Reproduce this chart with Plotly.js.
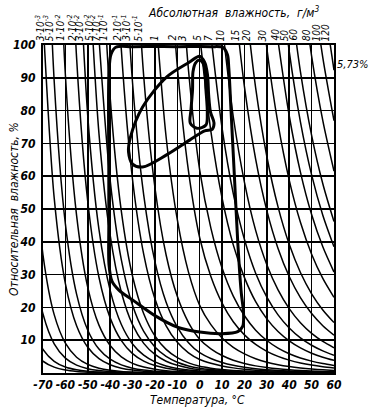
<!DOCTYPE html>
<html><head><meta charset="utf-8">
<script src="https://cdn.plot.ly/plotly-3.0.1.min.js"></script>
<style>body{margin:0;background:#fff}</style>
</head><body>
<div id="chart" style="width:376px;height:411px"></div>
<script>
// Saturation absolute humidity (g/m3) on the chart's temperature grid
const satTemp = [-75,-70,-65,-60,-55,-50,-45,-40,-35,-30,-25,-20,-15,-10,-5,0,5,10,15,20,25,30,35,40,45,50,55,60];
const satDensity = [0.00133,0.00278,0.00562,0.0110,0.0208,0.0383,0.0685,0.119,0.203,0.339,0.553,0.884,1.39,2.14,3.25,4.85,6.79,9.38,12.8,17.2,23.0,30.3,39.5,51.0,65.3,82.8,104,130];

// Labelled lines of constant absolute humidity (g/m3)
const absHumidity = [0.003,0.005,0.01,0.02,0.03,0.05,0.07,0.1,0.2,0.3,0.5,1,2,3,5,7,10,15,20,30,40,50,60,80,100,120];
const absLabels = ['3·10<sup>-3</sup>','5·10<sup>-3</sup>','1·10<sup>-2</sup>','2·10<sup>-2</sup>','3·10<sup>-2</sup>','5·10<sup>-2</sup>','7·10<sup>-2</sup>','1·10<sup>-1</sup>','2·10<sup>-1</sup>','3·10<sup>-1</sup>','5·10<sup>-1</sup>','1','2','3','5','7','10','15','20','30','40','50','60','80','100','120'];
// Unlabelled lines entering from the left border (g/m3)
const absHumidityLow = [0.001,0.0005,0.0002,0.0001];

const xTickVals = [-70,-60,-50,-40,-30,-20,-10,0,10,20,30,40,50,60];
const xTickText = ['-70','-60','-50','-40','-30','-20','-10','0','10','20','30','40','50','60'];
const yTickVals = [10,20,30,40,50,60,70,80,90,100];

// Thick outlined regions (temperature °C, relative humidity %)
const outerT  = [-40.6,-40.5,-39.6,-37.5,-30,-10,5,10.5,12.4,13.0,14.0,15.5,17.0,18.5,19.6,19.2,17.0,10,0,-10,-20,-30,-36,-39.2,-40.5,-40.6,-40.6];
const outerRH = [60,92,97.2,99.3,99.5,99.5,99.5,99.2,97.0,93,80,60,40,25,18,14.2,12.6,12.0,12.5,14.0,17.5,22.3,25.2,28.0,33,45,60];
const crescentT  = [-0.1,2.2,3.5,4.0,4.8,6.4,5.6,2.2,-4.5,-14.8,-25.5,-30.0,-31.8,-30.9,-25.5,-14.8,-4.5,-0.1];
const crescentRH = [96.6,94.8,90.9,84.8,79.6,76.2,74.3,73.8,71.0,66.5,62.8,63.7,67.4,72.0,81.1,90.2,94.8,96.6];
const bulbT  = [-0.1,2.0,2.8,3.4,2.8,-1.2,-4.2,-3.9,-3.2,-3.0,-1.9,-0.1];
const bulbRH = [95.4,93.6,86.3,79.3,75.6,74.6,76.2,80.2,86.3,91.8,94.5,95.4];

const traces = [];
const annotations = [];
const FAM = 'Liberation Sans Narrow, DejaVu Sans Condensed, sans-serif';
const labelFont = {family:FAM, size:10, color:'#000', style:'italic'};

function humidityLine(a) {
  const rh = satDensity.map(s => 100 * a / s);
  const start = rh.findIndex(v => v <= 100);
  const i0 = Math.max(0, start - 1);
  traces.push({x: satTemp.slice(i0), y: rh.slice(i0), mode:'lines',
               line:{color:'#000', width:1.5, shape:'spline', smoothing:0.8},
               hoverinfo:'skip', showlegend:false});
  return start;
}

absHumidity.forEach((a, k) => {
  const start = humidityLine(a);
  let tc;
  if (start <= 0) tc = satTemp[0];
  else {
    const s0 = satDensity[start-1], s1 = satDensity[start];
    tc = satTemp[start-1] + (satTemp[start]-satTemp[start-1]) * Math.log(a/s0) / Math.log(s1/s0);
  }
  annotations.push({x: tc, y: 100, xref:'x', yref:'y', text: absLabels[k], showarrow:false,
                    textangle:-90, xanchor:'center', yanchor:'bottom', yshift:2, xshift:-4, font: labelFont});
});
absHumidityLow.forEach(a => humidityLine(a));

function region(t, r) {
  traces.push({x: t, y: r, mode:'lines', line:{color:'#000', width:3, shape:'spline', smoothing:0.9},
               hoverinfo:'skip', showlegend:false});
}
region(outerT, outerRH);
region(crescentT, crescentRH);
region(bulbT, bulbRH);

const axisFont = {family:FAM, size:12, color:'#000', style:'italic', weight:'bold'};
const titleFont = {family:FAM, size:12, color:'#000', style:'italic'};

annotations.push({xref:'paper', yref:'paper', x:0.653, y:1.10, text:'Абсолютная  влажность,  г/м<sup>3</sup>', showarrow:false,
                  xanchor:'center', yanchor:'middle', font: titleFont});
annotations.push({xref:'paper', yref:'y', x:1, y:94, text:'5,73%', showarrow:false, xanchor:'left', xshift:1,
                  yanchor:'middle', font:{family:FAM, size:11, color:'#000', style:'italic'}});
annotations.push({xref:'paper', yref:'paper', x:-0.10, y:0.50, text:'Относительная  влажность, %', showarrow:false,
                  textangle:-90, xanchor:'center', yanchor:'middle', font: titleFont});
annotations.push({xref:'paper', yref:'paper', x:0.53, y:-0.083, text:'Температура, °С', showarrow:false,
                  xanchor:'center', yanchor:'middle', font: titleFont});

const layout = {
  width:376, height:411,
  margin:{l:43, r:42, t:45, b:38},
  paper_bgcolor:'#fff', plot_bgcolor:'#fff',
  showlegend:false,
  xaxis:{range:[-70,60], tickvals:xTickVals, ticktext:xTickText, showgrid:true, gridcolor:'#000', gridwidth:1.5,
         zeroline:false, showline:true, mirror:true, linecolor:'#000', linewidth:2, ticks:'', tickfont:axisFont,
         ticklabelstandoff:0, fixedrange:true},
  yaxis:{range:[0,100], tickvals:yTickVals, showgrid:true, gridcolor:'#000', gridwidth:1.5,
         zeroline:false, showline:true, mirror:true, linecolor:'#000', linewidth:2, ticks:'', tickfont:axisFont,
         ticklabelstandoff:3, fixedrange:true},
  annotations: annotations
};
Plotly.newPlot('chart', traces, layout, {displayModeBar:false, staticPlot:true});
</script>
</body></html>
